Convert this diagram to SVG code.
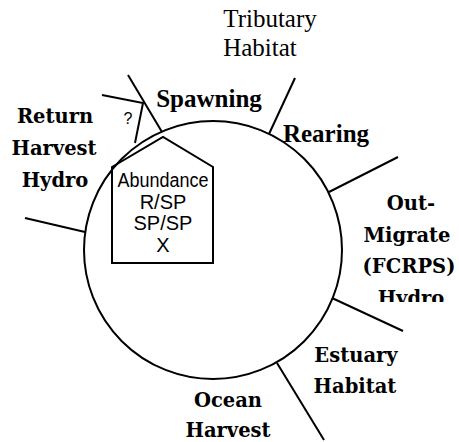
<svg xmlns="http://www.w3.org/2000/svg" width="459" height="442" viewBox="0 0 459 442">
<style>
.ln{fill:none;stroke:#000;stroke-width:2;stroke-linecap:butt}
.cs{font-family:"DejaVu Serif","Liberation Serif",serif;font-weight:bold;font-size:19.5px;fill:#000;text-anchor:middle}
.gb{font-family:"Liberation Serif",serif;font-weight:bold;font-size:25px;fill:#000;text-anchor:middle}
.gr{font-family:"Liberation Serif",serif;font-size:25px;fill:#000;text-anchor:middle}
.sn{font-family:"Liberation Sans",Arial,sans-serif;font-size:20px;fill:#000;text-anchor:middle}
</style>
<defs>
<clipPath id="clipR"><rect x="340" y="170" width="119" height="132"/></clipPath>
</defs>
<rect width="459" height="442" fill="#fff"/>
<g id="connectors">
<line class="ln" x1="25" y1="218" x2="85" y2="232"/>
<line class="ln" x1="128" y1="75" x2="162" y2="132"/>
<polyline class="ln" points="102,95 143,103 135,143"/>
<line class="ln" x1="295" y1="78" x2="269" y2="134"/>
<line class="ln" x1="398" y1="157" x2="329" y2="192"/>
<line class="ln" x1="332" y1="298" x2="403" y2="331"/>
<line class="ln" x1="277" y1="363" x2="324" y2="440"/>
</g>
<g id="cycle">
<circle class="ln" cx="213" cy="250" r="129"/>
</g>
<g id="abundance">
<polygon class="ln" points="112,167 163,137 213,167 213,263 112,263"/>
<text class="sn" x="163" y="187" textLength="91" lengthAdjust="spacingAndGlyphs">Abundance</text>
<text class="sn" x="163" y="209">R/SP</text>
<text class="sn" x="163" y="230">SP/SP</text>
<text class="sn" x="163" y="252">X</text>
</g>
<g id="question">
<text class="sn" x="128" y="124" style="font-size:16px">?</text>
</g>
<g id="return-harvest-hydro">
<text class="cs" x="55" y="123">Return</text>
<text class="cs" x="54" y="155">Harvest</text>
<text class="cs" x="55" y="187">Hydro</text>
</g>
<g id="tributary">
<text class="gr" x="270" y="27">Tributary</text>
<text class="gr" x="260" y="56">Habitat</text>
</g>
<g id="spawning">
<text class="gb" x="209" y="107">Spawning</text>
</g>
<g id="rearing">
<text class="gb" x="326" y="142">Rearing</text>
</g>
<g id="outmigrate">
<g clip-path="url(#clipR)">
<text class="cs" x="411" y="210">Out-</text>
<text class="cs" x="407" y="242">Migrate</text>
<text class="cs" x="409" y="273">(FCRPS)</text>
<text class="cs" x="411" y="305">Hydro</text>
</g>
</g>
<g id="estuary">
<text class="cs" x="356" y="362">Estuary</text>
<text class="cs" x="355" y="393">Habitat</text>
</g>
<g id="ocean">
<text class="cs" x="228" y="407">Ocean</text>
<text class="cs" x="228" y="437">Harvest</text>
</g>
</svg>
